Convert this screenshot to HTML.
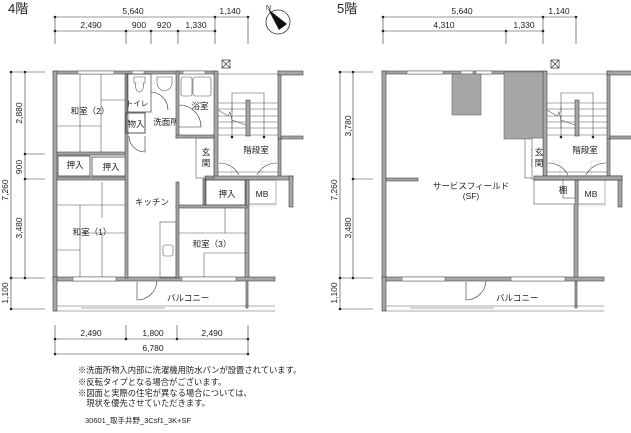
<!DOCTYPE html>
<html><head><meta charset="utf-8"><style>
html,body{margin:0;padding:0;background:#fff;}
svg{display:block;}
text{font-family:"Liberation Sans","Noto Sans CJK JP",sans-serif;fill:#222;}
.w{fill:#a6a6a6;stroke:#444;stroke-width:0.6;}
.t{stroke:#555;stroke-width:0.6;fill:none;}
.d{stroke:#333;stroke-width:0.6;fill:none;}
.g{stroke:#ccc;stroke-width:0.6;fill:none;}
</style></head><body>
<svg width="631" height="433" viewBox="0 0 631 433" xmlns="http://www.w3.org/2000/svg">
<defs>
<g id="stair">
  <!-- stair -->
  <g class="t">
    <line x1="218" y1="103" x2="278" y2="103"/><line x1="218" y1="109" x2="278" y2="109"/>
    <line x1="218" y1="116" x2="278" y2="116"/><line x1="218" y1="122" x2="278" y2="122"/>
    <line x1="218" y1="128" x2="278" y2="128"/><line x1="218" y1="135" x2="278" y2="135"/>
    <polyline points="232,137 232,93 264,93 264,137"/>
    <polyline points="218,110 228,116 230,112 232,120 246,125"/>
    <line x1="232" y1="106" x2="232" y2="112"/><line x1="232" y1="120" x2="232" y2="128"/>
  </g>
  <rect x="246" y="100" width="4" height="36" class="w"/>
  <circle cx="232" cy="137" r="1.3" fill="#222"/><circle cx="264" cy="137" r="1.3" fill="#222"/>
  <text x="256" y="153" font-size="8.5" text-anchor="middle">階段室</text>
  <!-- doors -->
  <path class="d" d="M219,163 A22,22 0 0 1 239,175"/><path class="g" d="M223,161 L231,161 L231,175"/>
  <path class="d" d="M277,163 A22,22 0 0 0 257,175"/><path class="g" d="M272,161 L262,161 L262,175"/>
  <line x1="217" y1="172" x2="278" y2="172" class="t"/>
  <!-- walls -->
  <rect x="214" y="71" width="4" height="108" class="w"/>
  <rect x="278" y="71" width="3" height="68" class="w"/>
  <rect x="278" y="71" width="25" height="4" class="w"/>
  <rect x="281" y="136" width="22" height="3" class="w"/>
  <rect x="278" y="139" width="3" height="38" class="w"/>
  <rect x="205" y="176" width="88" height="4" class="w"/>
  <rect x="289" y="176" width="4" height="31" class="w"/>
  <line x1="218" y1="74" x2="278" y2="74" class="t"/>
  <text x="227" y="66" font-size="10" fill="#333" stroke="none"> </text>
  <rect x="222" y="60" width="8" height="8" fill="none" stroke="#333" stroke-width="0.7"/>
  <path d="M222,60 L230,68 M230,60 L222,68" stroke="#333" stroke-width="0.7"/>
  <!-- genkan -->
  <rect x="196" y="138" width="18" height="40" fill="none" stroke="#555" stroke-width="0.6"/>
  <text x="206" y="155" font-size="8.5" text-anchor="middle">玄</text>
  <text x="206" y="166" font-size="8.5" text-anchor="middle">関</text>
  <!-- MB -->
  <rect x="249" y="180" width="27" height="24" fill="none" stroke="#555" stroke-width="0.6"/>
  <polyline points="276,180 276,206 249,206" class="g" stroke-width="1.5"/>
  <text x="262" y="197" font-size="8.5" text-anchor="middle">MB</text>
  <!-- right wall of 3 and balcony -->
  <rect x="245" y="180" width="4" height="100" class="w"/>
  <rect x="53" y="277" width="222" height="4" class="w"/>
  <rect x="246" y="281" width="2" height="27" class="w"/>
  <rect x="53" y="277" width="4" height="34" class="w"/>
  <line x1="57" y1="306" x2="275" y2="306" class="t"/>
  <line x1="53" y1="311" x2="275" y2="311" class="t"/>
  <line x1="81" y1="308" x2="165" y2="308" class="t"/>
  <path class="d" d="M137,282 L137,300 A20,20 0 0 0 157,281"/>
  <text x="167" y="301" font-size="8.5">バルコニー</text>
  <!-- window marks top/bottom -->
  <g fill="#fff" stroke="#555" stroke-width="0.5">
    <rect x="73" y="277" width="43" height="4"/><rect x="182" y="277" width="54" height="4"/>
  </g>
</g>
</defs>

<!-- ===== 4F ===== -->
<text x="8" y="13" font-size="13">4階</text>
<g class="d">
  <line x1="55" y1="17" x2="248" y2="17"/><line x1="55" y1="31" x2="215" y2="31"/>
  <line x1="55" y1="17" x2="55" y2="44"/><line x1="126" y1="31" x2="126" y2="44"/><line x1="151" y1="31" x2="151" y2="44"/>
  <line x1="178" y1="31" x2="178" y2="44"/><line x1="215" y1="17" x2="215" y2="44"/><line x1="248" y1="17" x2="248" y2="44"/>
</g>
<g fill="#222">
  <circle cx="55" cy="17" r="1.3"/><circle cx="215" cy="17" r="1.3"/><circle cx="248" cy="17" r="1.3"/>
  <circle cx="55" cy="31" r="1.3"/><circle cx="126" cy="31" r="1.3"/><circle cx="151" cy="31" r="1.3"/><circle cx="178" cy="31" r="1.3"/><circle cx="215" cy="31" r="1.3"/>
</g>
<g font-size="8.5" text-anchor="middle">
  <text x="133" y="14">5,640</text><text x="230" y="14">1,140</text>
  <text x="91" y="28">2,490</text><text x="139" y="28">900</text><text x="164" y="28">920</text><text x="196" y="28">1,330</text>
</g>
<!-- compass -->
<circle cx="278" cy="22" r="12" fill="none" stroke="#333" stroke-width="0.8"/>
<path d="M268,9 L287,24 L279,30 Z" fill="#111"/>
<text x="266" y="10" font-size="7">N</text>
<!-- left dims -->
<g class="d">
  <line x1="11" y1="72" x2="11" y2="309"/><line x1="25" y1="72" x2="25" y2="278"/>
  <line x1="11" y1="72" x2="45" y2="72"/><line x1="25" y1="154" x2="45" y2="154"/><line x1="25" y1="179" x2="45" y2="179"/>
  <line x1="11" y1="278" x2="45" y2="278"/><line x1="11" y1="309" x2="45" y2="309"/>
</g>
<g fill="#222"><circle cx="11" cy="72" r="1.3"/><circle cx="25" cy="72" r="1.3"/><circle cx="25" cy="154" r="1.3"/><circle cx="25" cy="179" r="1.3"/><circle cx="11" cy="278" r="1.3"/><circle cx="25" cy="278" r="1.3"/><circle cx="11" cy="309" r="1.3"/></g>
<g font-size="8.5" text-anchor="middle">
  <text transform="translate(22,113) rotate(-90)">2,880</text>
  <text transform="translate(22,167) rotate(-90)">900</text>
  <text transform="translate(22,228) rotate(-90)">3,480</text>
  <text transform="translate(8,190) rotate(-90)">7,260</text>
  <text transform="translate(8,293) rotate(-90)">1,100</text>
</g>
<!-- walls -->
<rect x="53" y="71" width="163" height="3" class="w"/>
<rect x="53" y="71" width="4" height="210" class="w"/>
<g fill="#fff" stroke="#555" stroke-width="0.5"><rect x="78" y="71" width="36" height="3"/><rect x="132" y="71" width="12" height="3"/><rect x="183" y="71" width="22" height="3"/></g>
<use href="#stair"/>
<!-- washitsu 2 -->
<g class="t">
  <line x1="80" y1="74" x2="80" y2="152"/><line x1="101" y1="74" x2="101" y2="152"/>
  <line x1="101" y1="100" x2="126" y2="100"/><line x1="57" y1="126" x2="101" y2="126"/>
  <line x1="80" y1="205" x2="80" y2="277"/><line x1="102" y1="182" x2="102" y2="218"/>
  <line x1="57" y1="205" x2="126" y2="205"/><line x1="80" y1="233" x2="126" y2="233"/>
  <line x1="57" y1="250" x2="80" y2="250"/><line x1="102" y1="233" x2="102" y2="277"/>
</g>
<rect x="57" y="152" width="70" height="3" class="w"/>
<rect x="57" y="177" width="70" height="3" class="w"/>
<rect x="58" y="156" width="32" height="20" fill="none" stroke="#444" stroke-width="0.8"/>
<rect x="92" y="157" width="34" height="19" fill="none" stroke="#444" stroke-width="0.8"/>
<rect x="125" y="74" width="3" height="204" class="w"/>
<g font-size="8.5" text-anchor="middle">
  <text x="90" y="114">和室（2）</text><text x="75" y="168">押入</text><text x="111" y="170">押入</text>
  <text x="92" y="235">和室（1）</text><text x="152" y="205">キッチン</text>
  <text x="137" y="106" font-size="7.5">トイレ</text><text x="136" y="127">物入</text><text x="166" y="125">洗面所</text>
  <text x="200" y="109">浴室</text><text x="227" y="197">押入</text><text x="212" y="247">和室（3）</text>
</g>
<!-- toilet/wash -->
<rect x="127" y="74" width="24" height="38" fill="none" stroke="#444" stroke-width="0.7"/>
<path class="t" d="M134,77 h11 v6 h-2 a4,6 0 1 1 -7,0 h-2z"/>
<path class="t" d="M157,77 h15 v6 a7,7 0 0 1 -15,0z"/>
<path class="d" d="M151,92 A18,18 0 0 1 168,110"/>
<rect x="126" y="113" width="19" height="20" fill="none" stroke="#444" stroke-width="0.9"/>
<path class="d" d="M129,136 A16,16 0 0 0 145,152 L145,136"/>
<!-- bath -->
<rect x="176" y="71" width="3" height="67" class="w"/>
<rect x="176" y="135" width="38" height="3" class="w"/>
<rect x="181" y="77" width="11" height="19" rx="2" class="t"/><rect x="193" y="77" width="18" height="19" rx="2" class="t"/>
<path class="d" d="M179,105 A22,22 0 0 1 201,127 L179,127"/>
<!-- oshiire & room3 -->
<rect x="203" y="179" width="3" height="28" class="w"/>
<rect x="205" y="180" width="41" height="25" fill="none" stroke="#444" stroke-width="0.7"/>
<rect x="176" y="205" width="71" height="3" class="w"/>
<rect x="176" y="182" width="3" height="96" class="w"/>
<g class="t"><line x1="225" y1="207" x2="225" y2="233"/><line x1="179" y1="233" x2="247" y2="233"/><line x1="204" y1="253" x2="247" y2="253"/><line x1="204" y1="253" x2="204" y2="277"/></g>
<!-- kitchen counter -->
<rect x="160" y="222" width="16" height="56" class="t"/><rect x="163" y="245" width="10" height="11" rx="2" class="t"/>

<!-- bottom dims -->
<g class="d">
  <line x1="55" y1="339" x2="248" y2="339"/><line x1="55" y1="354" x2="248" y2="354"/>
  <line x1="55" y1="325" x2="55" y2="354"/><line x1="126" y1="325" x2="126" y2="339"/><line x1="177" y1="325" x2="177" y2="339"/><line x1="248" y1="325" x2="248" y2="354"/>
</g>
<g fill="#222"><circle cx="55" cy="339" r="1.3"/><circle cx="126" cy="339" r="1.3"/><circle cx="177" cy="339" r="1.3"/><circle cx="248" cy="339" r="1.3"/><circle cx="55" cy="354" r="1.3"/><circle cx="248" cy="354" r="1.3"/></g>
<g font-size="8.5" text-anchor="middle"><text x="91" y="336">2,490</text><text x="153" y="336">1,800</text><text x="212" y="336">2,490</text><text x="153" y="351">6,780</text></g>
<g font-size="8.3">
  <text x="78" y="373">※洗面所物入内部に洗濯機用防水パンが設置されています。</text>
  <text x="78" y="385">※反転タイプとなる場合がございます。</text>
  <text x="78" y="396">※図面と実際の住宅が異なる場合については、</text>
  <text x="78" y="406">　現状を優先させていただきます。</text>
  <text x="85" y="423" font-size="7.5">30601_取手井野_3Csf1_3K+SF</text>
</g>

<!-- ===== 5F ===== -->
<text x="337" y="13" font-size="13">5階</text>
<g class="d">
  <line x1="383" y1="17" x2="576" y2="17"/><line x1="383" y1="31" x2="543" y2="31"/>
  <line x1="383" y1="17" x2="383" y2="44"/><line x1="506" y1="31" x2="506" y2="44"/>
  <line x1="543" y1="17" x2="543" y2="44"/><line x1="576" y1="17" x2="576" y2="44"/>
</g>
<g fill="#222"><circle cx="383" cy="17" r="1.3"/><circle cx="543" cy="17" r="1.3"/><circle cx="576" cy="17" r="1.3"/><circle cx="383" cy="31" r="1.3"/><circle cx="506" cy="31" r="1.3"/><circle cx="543" cy="31" r="1.3"/></g>
<g font-size="8.5" text-anchor="middle"><text x="462" y="14">5,640</text><text x="559" y="14">1,140</text><text x="444" y="28">4,310</text><text x="524" y="28">1,330</text></g>
<g class="d">
  <line x1="340" y1="72" x2="340" y2="309"/><line x1="353" y1="72" x2="353" y2="278"/>
  <line x1="340" y1="72" x2="373" y2="72"/><line x1="353" y1="179" x2="373" y2="179"/>
  <line x1="340" y1="278" x2="373" y2="278"/><line x1="340" y1="309" x2="373" y2="309"/>
</g>
<g fill="#222"><circle cx="340" cy="72" r="1.3"/><circle cx="353" cy="72" r="1.3"/><circle cx="353" cy="179" r="1.3"/><circle cx="340" cy="278" r="1.3"/><circle cx="353" cy="278" r="1.3"/><circle cx="340" cy="309" r="1.3"/></g>
<g font-size="8.5" text-anchor="middle">
  <text transform="translate(351,126) rotate(-90)">3,780</text>
  <text transform="translate(351,228) rotate(-90)">3,480</text>
  <text transform="translate(337,190) rotate(-90)">7,260</text>
  <text transform="translate(337,293) rotate(-90)">1,100</text>
</g>
<g transform="translate(329,0)">
  <rect x="53" y="71" width="163" height="3" class="w"/>
  <rect x="53" y="71" width="4" height="210" class="w"/>
  <g fill="#fff" stroke="#555" stroke-width="0.5"><rect x="78" y="71" width="36" height="3"/><rect x="132" y="71" width="12" height="3"/><rect x="147" y="71" width="16" height="3"/></g>
  <use href="#stair"/>
  <rect x="57" y="178" width="32" height="3" class="w"/>
  <rect x="123" y="74" width="29" height="41" fill="#a6a6a6" stroke="#555" stroke-width="0.5"/>
  <rect x="175" y="72" width="39" height="67" fill="#a6a6a6" stroke="#555" stroke-width="0.5"/>
  <rect x="205" y="180" width="41" height="24" fill="#fff" stroke="#555" stroke-width="0.6"/>
  <rect x="234" y="180" width="12" height="18" fill="#fff" stroke="#555" stroke-width="0.6"/>
  <rect x="205" y="176" width="88" height="4" class="w"/>
  <rect x="203" y="138" width="11" height="41" fill="#fff" stroke="#555" stroke-width="0.6"/>
  <text x="210" y="155" font-size="8.5" text-anchor="middle">玄</text>
  <text x="210" y="166" font-size="8.5" text-anchor="middle">関</text>
  <rect x="205" y="176" width="88" height="4" class="w"/>
  <text x="234" y="193" font-size="8.5" text-anchor="middle">棚</text>
  <rect x="217" y="180" width="2" height="1" fill="none"/>
  <text x="142" y="189" font-size="8.5" text-anchor="middle">サービスフィールド</text>
  <text x="142" y="199" font-size="8.5" text-anchor="middle">(SF)</text>
</g>
</svg>
</body></html>
